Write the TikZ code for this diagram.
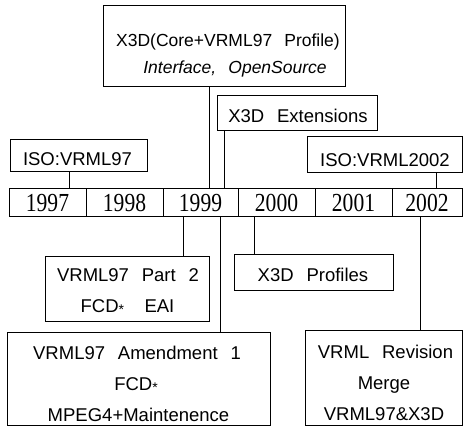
\documentclass[tikz,border=0pt]{standalone}
\usepackage{fontspec}
\setmainfont{Liberation Sans}[WordSpace=2.5]
\newfontfamily\yearfont{Liberation Serif}
\newcommand{\fcdstar}{{\fontsize{14}{14}\selectfont\raisebox{-1.5pt}{*}}}
\begin{document}
\begin{tikzpicture}[x=1pt,y=-1pt,
  box/.style={draw,line width=1pt,inner sep=0pt,anchor=center},
  lab/.style={inner sep=0pt,anchor=base,font=\fontsize{18.5}{20}\selectfont},
  toplab/.style={inner sep=0pt,anchor=base,font=\fontsize{17.5}{20}\selectfont},
  yearcell/.style={draw,line width=1pt,inner sep=0pt,minimum height=28pt,font=\yearfont\fontsize{26}{26}\selectfont},
  conn/.style={line width=0.9pt}]
\useasboundingbox (0,0) rectangle (464,427);

% boxes
\node[box,minimum width=242pt,minimum height=81pt] (top) at (224,46.5) {};
\node[box,minimum width=160pt,minimum height=35pt] (ext) at (297,113.5) {};
\node[box,minimum width=137pt,minimum height=32pt] (iso97) at (78.5,156) {};
\node[box,minimum width=155pt,minimum height=36pt] (iso02) at (384.5,155) {};
\node[box,minimum width=164pt,minimum height=65pt] (part2) at (127,289.5) {};
\node[box,minimum width=159pt,minimum height=36pt] (prof) at (313.5,273) {};
\node[box,minimum width=263pt,minimum height=93pt] (amend) at (138.5,379.5) {};
\node[box,minimum width=157pt,minimum height=95pt] (rev) at (383.5,378.5) {};

% year bar
\node[yearcell,minimum width=77pt] (y97) at (47.5,203) {\scalebox{0.83}[1]{1997}};
\node[yearcell,minimum width=77pt] (y98) at (124.5,203) {\scalebox{0.83}[1]{1998}};
\node[yearcell,minimum width=75pt] (y99) at (200.5,203) {\scalebox{0.83}[1]{1999}};
\node[yearcell,minimum width=77pt] (y00) at (276.5,203) {\scalebox{0.83}[1]{2000}};
\node[yearcell,minimum width=77pt] (y01) at (353.5,203) {\scalebox{0.83}[1]{2001}};
\node[yearcell,minimum width=70pt] (y02) at (427,203) {\scalebox{0.83}[1]{2002}};

% texts
\node[toplab] (topa) at (228,47) {X3D(Core+VRML97 Profile)};
\node[toplab,font=\fontsize{17.5}{20}\selectfont\itshape] (topb) at (235,74) {Interface, OpenSource};
\node[lab] (extt) at (298,123) {X3D Extensions};
\node[lab] (iso97t) at (77.5,166) {ISO:VRML97};
\node[lab] (iso02t) at (385,167) {ISO:VRML2002};
\node[lab] (part2a) at (128,282) {VRML97 Part 2};
\node[lab] (part2b) at (127.5,313) {FCD\fcdstar\hspace{1.1em}EAI};
\node[lab] (proft) at (313,282) {X3D Profiles};
\node[lab] (amenda) at (137,360) {VRML97 Amendment 1};
\node[lab] (amendb) at (136,391) {FCD\fcdstar};
\node[lab] (amendc) at (138.5,422) {MPEG4+Maintenence};
\node[lab] (reva) at (385.5,359) {VRML Revision};
\node[lab] (revb) at (384,390) {Merge};
\node[lab] (revc) at (384,421) {VRML97\&X3D};

% connectors
\coordinate (c1) at ([xshift=-15pt]top.south);
\draw[conn] (c1) -- (c1 |- y99.north);
\coordinate (c2) at ([xshift=-73pt]ext.south);
\draw[conn] (c2) -- (c2 |- y99.north);
\coordinate (c3) at ([xshift=-9.5pt]iso97.south);
\draw[conn] (c3) -- (c3 |- y97.north);
\coordinate (c4) at ([xshift=51.5pt]iso02.south);
\draw[conn] (c4) -- (c4 |- y02.north);
\coordinate (c5) at ([xshift=56pt]part2.north);
\draw[conn] (c5 |- y99.south) -- (c5);
\coordinate (c6) at ([xshift=81.5pt]amend.north);
\draw[conn] (c6 |- y99.south) -- (c6);
\coordinate (c7) at ([xshift=-59.5pt]prof.north);
\draw[conn] (c7 |- y00.south) -- (c7);
\coordinate (c8) at ([xshift=36.5pt]rev.north);
\draw[conn] (c8 |- y02.south) -- (c8);
\end{tikzpicture}
\end{document}
